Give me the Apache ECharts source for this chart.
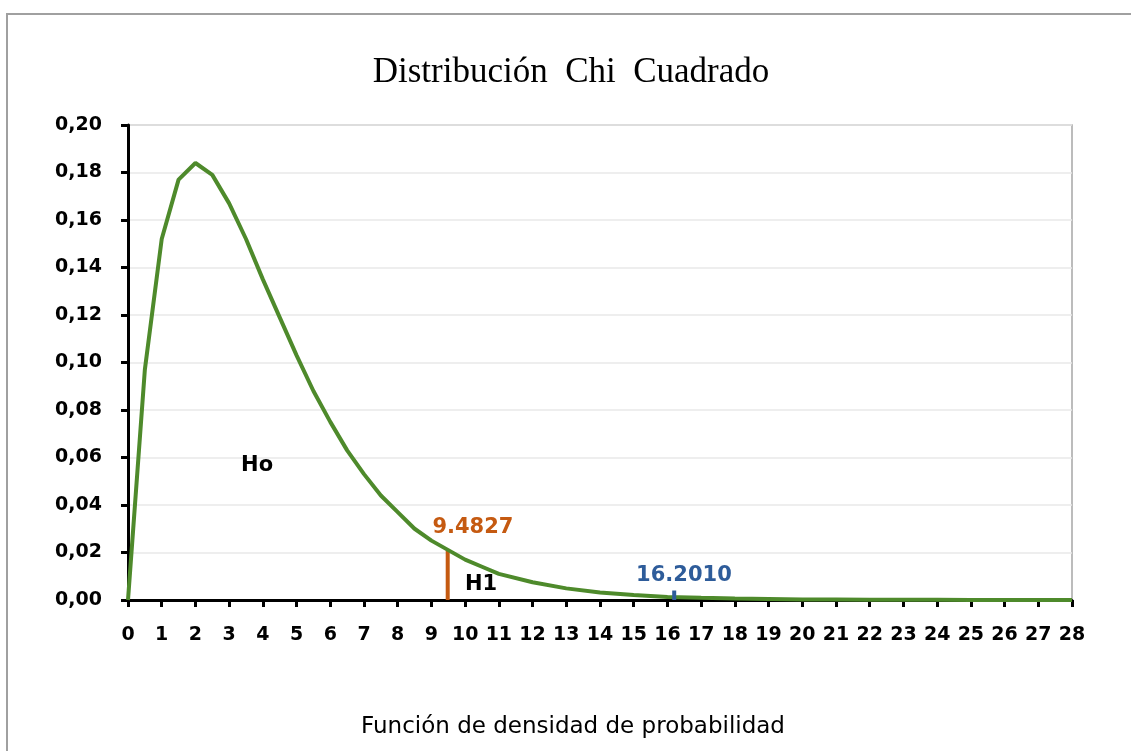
<!DOCTYPE html>
<html>
<head>
<meta charset="utf-8">
<script src="https://cdn.jsdelivr.net/npm/echarts@6/dist/echarts.min.js"></script>
<style>
  html, body { margin: 0; padding: 0; background: #fff; }
  #chart { width: 1131px; height: 751px; }
</style>
</head>
<body>
<div id="chart"></div>
<script>
// chi cuadrado
const xVals = [0, 0.5, 1, 1.5, 2, 2.5, 3, 3.5, 4, 4.5, 5, 5.5, 6, 6.5, 7, 7.5, 8, 8.5, 9, 9.5, 10, 10.5, 11,
  12, 13, 14, 15, 16, 17, 18, 19, 20, 21, 22, 23, 24, 25, 26, 27, 28];
const yVals = [0, 0.097, 0.152, 0.177, 0.184, 0.179, 0.167, 0.152, 0.135, 0.119, 0.103, 0.088, 0.075, 0.063,
  0.053, 0.044, 0.037, 0.030, 0.025, 0.021, 0.017, 0.014, 0.011,
  0.0075, 0.0049, 0.0032, 0.0021, 0.0013, 0.0009, 0.0006, 0.0004, 0.0002, 0.0002, 0.0001, 0.0001, 0.0001, 0, 0, 0, 0];

const critical = [9.4827, 0.0207];
const pValue = [16.201, 0.004];

const noteText = ['Ho', 'H1', '9.4827', '16.2010'];
const noteX = [3.83, 10.47, 10.23, 16.49];
const noteY = [0.0568, 0.0067, 0.0307, 0.0101];
const noteColor = ['#000000', '#000000', '#c55a11', '#2e5c9a'];

const curve = xVals.map((x, i) => [x, yVals[i]]);
const notes = noteText.map((t, i) => ({
  value: [noteX[i], noteY[i]],
  name: t,
  label: { color: noteColor[i] }
}));

const chart = echarts.init(document.getElementById('chart'));
chart.setOption({
  animation: false,
  backgroundColor: '#fff',
  title: {
    text: 'Distribución\u00a0\u00a0Chi\u00a0\u00a0Cuadrado',
    left: 566,
    top: 50,
    textAlign: 'center',
    textStyle: { fontFamily: 'Liberation Serif', fontSize: 35, fontWeight: 'normal', color: '#000' }
  },
  graphic: [{
    type: 'rect',
    shape: { x: 7, y: 14, width: 1200, height: 800 },
    style: { fill: 'none', stroke: '#a0a0a0', lineWidth: 2 },
    silent: true
  }],
  grid: {
    left: 128, right: 59, top: 125, bottom: 151,
    show: true, borderColor: '#a6a6a6', borderWidth: 1.5
  },
  xAxis: {
    type: 'value',
    min: 0, max: 28, interval: 1,
    name: 'Función de densidad de probabilidad',
    nameLocation: 'middle',
    nameGap: 116,
    nameTextStyle: { fontFamily: 'DejaVu Sans', fontSize: 23, color: '#000', padding: [0, 54, 0, 0] },
    axisLine: { show: true, lineStyle: { color: '#000', width: 3 } },
    axisTick: { show: true, length: 7, lineStyle: { color: '#000', width: 3 } },
    axisLabel: { margin: 26, fontFamily: 'DejaVu Sans', fontWeight: 'bold', fontSize: 19, color: '#000' },
    splitLine: { show: false }
  },
  yAxis: {
    type: 'value',
    min: 0, max: 0.2, interval: 0.02,
    axisLine: { show: true, lineStyle: { color: '#000', width: 3 } },
    axisTick: { show: true, length: 7, lineStyle: { color: '#000', width: 3 } },
    axisLabel: {
      margin: 26, fontFamily: 'DejaVu Sans', fontWeight: 'bold', fontSize: 19, color: '#000',
      formatter: v => v.toFixed(2).replace('.', ',')
    },
    splitLine: { show: true, lineStyle: { color: '#e8e8e8', width: 1.5 } }
  },
  series: [
    {
      type: 'line',
      data: curve,
      showSymbol: false,
      lineStyle: { color: '#4e8a2b', width: 4 },
      z: 3
    },
    {
      type: 'line',
      data: [[critical[0], 0], critical],
      showSymbol: false,
      lineStyle: { color: '#c55a11', width: 4 },
      z: 2
    },
    {
      type: 'line',
      data: [[pValue[0], 0], pValue],
      showSymbol: false,
      lineStyle: { color: '#2e5c9a', width: 4 },
      z: 4
    },
    {
      type: 'scatter',
      data: notes,
      symbolSize: 0,
      itemStyle: { color: 'rgba(0,0,0,0)', opacity: 1 },
      silent: true,
      label: {
        show: true,
        position: [0, 0],
        align: 'center',
        verticalAlign: 'middle',
        formatter: p => p.name,
        fontFamily: 'DejaVu Sans',
        fontWeight: 'bold',
        fontSize: 21,
        textBorderWidth: 0
      },
      z: 5
    }
  ]
});
</script>
</body>
</html>
